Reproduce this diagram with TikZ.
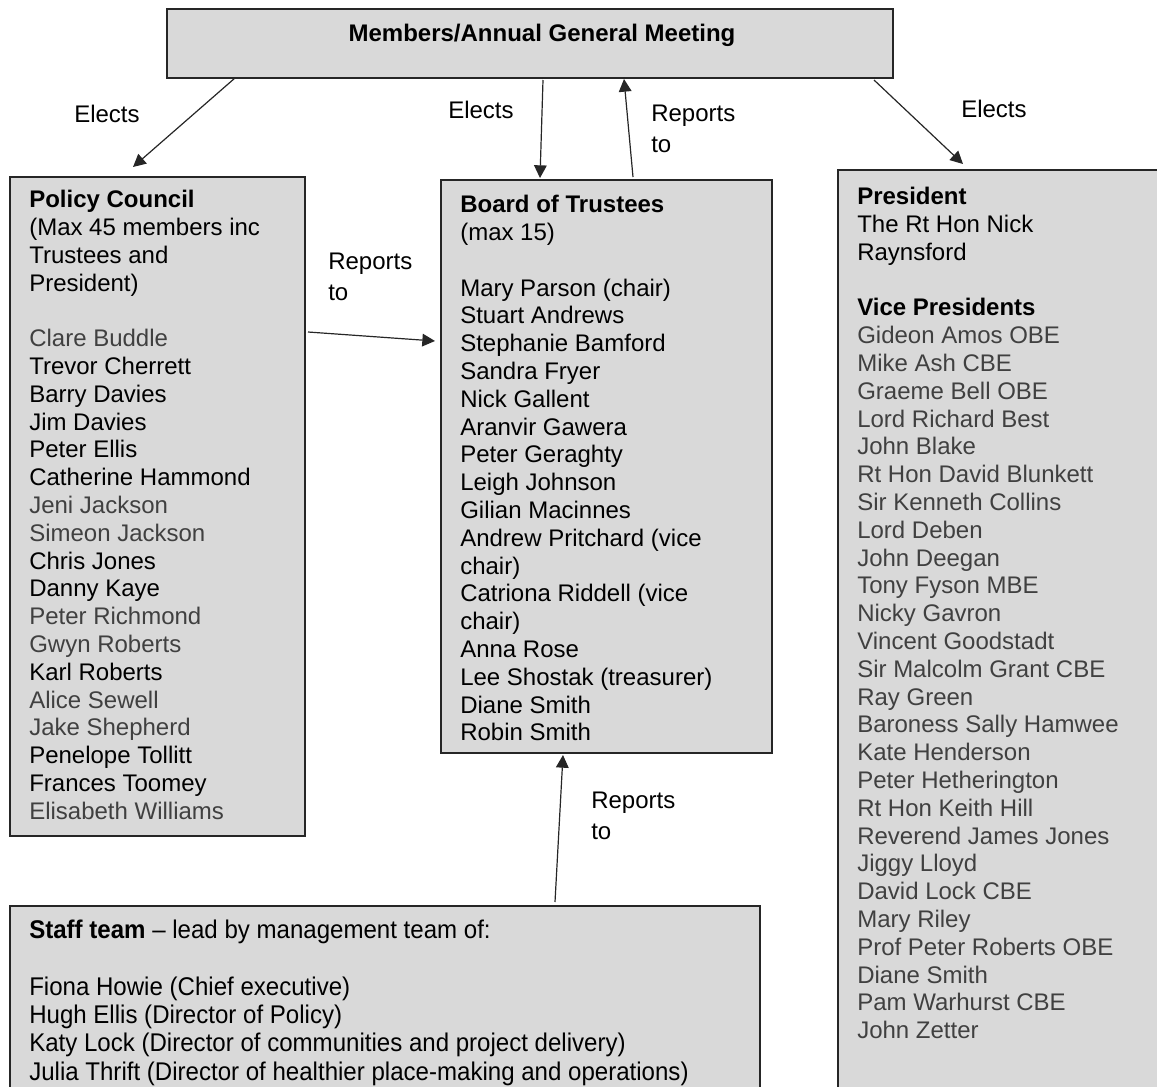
\documentclass[tikz,border=0pt]{standalone}
\usepackage{fontspec}
\setmainfont{Liberation Sans}
\newfontfamily\narrowfont{Liberation Sans}[FakeStretch=0.94]
\usepackage{tikz}
\usetikzlibrary{positioning}
\usetikzlibrary{calc}
\usetikzlibrary{arrows.meta}
\def\pxu{0.75pt}
\definecolor{boxfill}{HTML}{D9D9D9}
\definecolor{boxline}{HTML}{262626}
\colorlet{softtxt}{black!75}

\begin{document}
\begin{tikzpicture}[x=0.75pt, y=-0.75pt,
  box/.style={draw=boxline, fill=boxfill, line width=1.2pt, rectangle,
    inner sep=0, outer sep=0, anchor=north west},
  listtxt/.style={font=\fontsize{18}{20.85}\selectfont, align=left,
    inner sep=0, anchor=north west},
  lbl/.style={font=\fontsize{18}{23.25}\selectfont, align=left,
    inner sep=0, anchor=north west},
  conn/.style={draw=black!85, line width=0.9pt,
    -{Triangle[length=9.5pt, width=9.5pt]}}]

\useasboundingbox (0,0) rectangle (1157,1086);
\clip (0,0) rectangle (1157,1086);

% boxes
\node[box, minimum width={726*\pxu}, minimum height={69*\pxu}]  (agm) at (167,9)   {};
\node[box, minimum width={295*\pxu}, minimum height={659*\pxu}] (pc)  at (10,177)  {};
\node[box, minimum width={331*\pxu}, minimum height={573*\pxu}] (bt)  at (441,180) {};
\node[box, minimum width={330*\pxu}, minimum height={930*\pxu}] (pr)  at (838,170) {};
\node[box, minimum width={750*\pxu}, minimum height={190*\pxu}] (st)  at (10,906)  {};

% members / AGM
\node[font=\fontsize{18}{20.85}\selectfont\bfseries, inner sep=0] (agmtxt)
  at ($(agm.north)+(12,26)$) {Members/Annual General Meeting};

% policy council
\node[listtxt] (pctxt) at ($(pc.north west)+(19,13)$) {%
  \textbf{Policy Council}\\
  (Max 45 members inc\\
  Trustees and\\
  President)\\[20.85pt]
  {\color{softtxt}Clare Buddle}\\
  Trevor Cherrett\\
  Barry Davies\\
  Jim Davies\\
  Peter Ellis\\
  Catherine Hammond\\
  {\color{softtxt}Jeni Jackson}\\
  {\color{softtxt}Simeon Jackson}\\
  Chris Jones\\
  Danny Kaye\\
  {\color{softtxt}Peter Richmond}\\
  {\color{softtxt}Gwyn Roberts}\\
  Karl Roberts\\
  {\color{softtxt}Alice Sewell}\\
  {\color{softtxt}Jake Shepherd}\\
  Penelope Tollitt\\
  Frances Toomey\\
  {\color{softtxt}Elisabeth Williams}};

% board of trustees
\node[listtxt] (bttxt) at ($(bt.north west)+(19,15)$) {%
  \textbf{Board of Trustees}\\
  (max 15)\\[20.85pt]
  Mary Parson (chair)\\
  Stuart Andrews\\
  Stephanie Bamford\\
  Sandra Fryer\\
  Nick Gallent\\
  Aranvir Gawera\\
  Peter Geraghty\\
  Leigh Johnson\\
  Gilian Macinnes\\
  Andrew Pritchard (vice\\
  chair)\\
  Catriona Riddell (vice\\
  chair)\\
  Anna Rose\\
  Lee Shostak (treasurer)\\
  Diane Smith\\
  Robin Smith};

% president and vice presidents
\node[listtxt, text=softtxt] (prtxt) at ($(pr.north west)+(19,17)$) {%
  \textcolor{black}{\textbf{President}}\\
  \textcolor{black}{The Rt Hon Nick}\\
  \textcolor{black}{Raynsford}\\[20.85pt]
  \textcolor{black}{\textbf{Vice Presidents}}\\
  Gideon Amos OBE\\
  Mike Ash CBE\\
  Graeme Bell OBE\\
  Lord Richard Best\\
  John Blake\\
  Rt Hon David Blunkett\\
  Sir Kenneth Collins\\
  Lord Deben\\
  John Deegan\\
  Tony Fyson MBE\\
  Nicky Gavron\\
  Vincent Goodstadt\\
  Sir Malcolm Grant CBE\\
  Ray Green\\
  Baroness Sally Hamwee\\
  Kate Henderson\\
  Peter Hetherington\\
  Rt Hon Keith Hill\\
  Reverend James Jones\\
  Jiggy Lloyd\\
  David Lock CBE\\
  Mary Riley\\
  Prof Peter Roberts OBE\\
  Diane Smith\\
  Pam Warhurst CBE\\
  John Zetter};

% staff team
\node[listtxt, font=\narrowfont\fontsize{19.2}{21.2}\selectfont] (sttxt)
  at ($(st.north west)+(19,14)$) {%
  \textbf{Staff team} \textendash{} lead by management team of:\\[21.2pt]
  Fiona Howie (Chief executive)\\
  Hugh Ellis (Director of Policy)\\
  Katy Lock (Director of communities and project delivery)\\
  Julia Thrift (Director of healthier place-making and operations)};

% connector labels
\node[lbl] (el1) at (74,105)  {Elects};
\node[lbl] (el2) at (448,101) {Elects};
\node[lbl] (el3) at (961,100) {Elects};
\node[lbl] (rp1) at (651,105) {Reports\\to};
\node[lbl] (rp2) at (328,253) {Reports\\to};
\node[lbl] (rp3) at (591,792) {Reports\\to};

% connectors
\draw[conn] ($(agm.south west)+(68,0)$)  -- ($(pc.north west)+(123,-10)$);
\draw[conn] ($(agm.south west)+(376,2)$) -- ($(bt.north west)+(99,-2)$);
\draw[conn] ($(bt.north west)+(192,-3)$) -- ($(agm.south west)+(457,1)$);
\draw[conn] ($(agm.south west)+(707,2)$) -- ($(pr.north west)+(125,-6)$);
\draw[conn] ($(pc.north east)+(3,155)$)  -- ($(bt.north west)+(-6,161)$);
\draw[conn] ($(st.north west)+(545,-4)$) -- ($(bt.south west)+(122,2)$);
\end{tikzpicture}
\end{document}
